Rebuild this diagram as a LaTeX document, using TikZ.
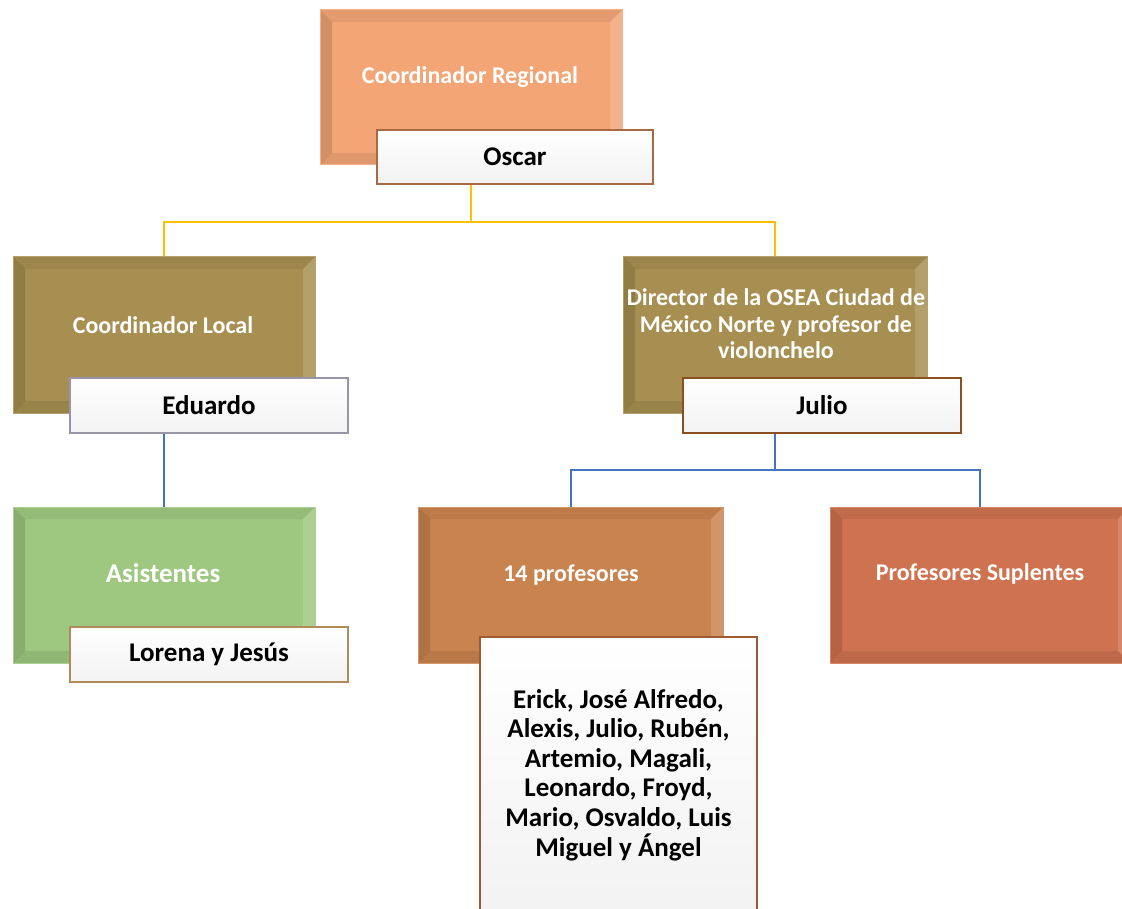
\documentclass[tikz,border=0pt]{standalone}
\usepackage{fontspec}
\setmainfont{Carlito}
\usetikzlibrary{backgrounds}
\definecolor{cRegional}{HTML}{F3A576}
\definecolor{cOlive}{HTML}{A68F50}
\definecolor{cGreen}{HTML}{9EC780}
\definecolor{cProf}{HTML}{C9834F}
\definecolor{cSup}{HTML}{CF7250}
\definecolor{bOscar}{HTML}{A86A45}
\definecolor{bEdu}{HTML}{9696A8}
\definecolor{bJulio}{HTML}{8C5020}
\definecolor{bLorena}{HTML}{B08C5A}
\definecolor{bNames}{HTML}{A05A32}
\definecolor{lineYellow}{HTML}{FFC000}
\definecolor{lineBlue}{HTML}{4472C4}
\tikzset{
  bevelbox/.style={rectangle, fill=#1, draw=#1!85!white, line width=1pt, inner sep=0pt,
    path picture={
      \fill[black,opacity=0.13] (path picture bounding box.north west) -- (path picture bounding box.south west)
        -- ([shift={(12pt,12pt)}]path picture bounding box.south west) -- ([shift={(12pt,-12pt)}]path picture bounding box.north west) -- cycle;
      \fill[black,opacity=0.06] (path picture bounding box.north west) -- (path picture bounding box.north east)
        -- ([shift={(-12pt,-12pt)}]path picture bounding box.north east) -- ([shift={(12pt,-12pt)}]path picture bounding box.north west) -- cycle;
      \fill[white,opacity=0.15] (path picture bounding box.north east) -- (path picture bounding box.south east)
        -- ([shift={(-12pt,12pt)}]path picture bounding box.south east) -- ([shift={(-12pt,-12pt)}]path picture bounding box.north east) -- cycle;
      \fill[black,opacity=0.08] (path picture bounding box.south west) -- (path picture bounding box.south east)
        -- ([shift={(-12pt,12pt)}]path picture bounding box.south east) -- ([shift={(12pt,12pt)}]path picture bounding box.south west) -- cycle;
    }},
  wtext/.style={text=white, font=\fontsize{24}{29}\selectfont\bfseries, align=center, inner sep=0pt},
  dtext/.style={text=white, font=\fontsize{24}{26.5}\selectfont\bfseries, align=center, inner sep=0pt},
  namebox/.style={rectangle, draw=#1, line width=2pt, top color=white, bottom color=black!5,
    text=black, font=\fontsize{27}{30}\selectfont\bfseries, align=center, inner sep=0pt},
  yline/.style={draw=lineYellow, line width=2pt},
  bline/.style={draw=lineBlue, line width=2pt},
}
\begin{document}
\begin{tikzpicture}[x=1pt,y=-1pt]
\useasboundingbox (0,0) rectangle (1122,909);
\clip (0,0) rectangle (1122,909);
% big boxes
\node[bevelbox=cRegional, minimum width=302, minimum height=155] (cr) at (471,87.5) {};
\node[wtext] (crt) at (470,77) {Coordinador Regional};
\node[bevelbox=cOlive, minimum width=302, minimum height=156] (cl) at (164,335) {};
\node[wtext] (clt) at (163,325) {Coordinador Local};
\node[bevelbox=cOlive, minimum width=304, minimum height=156] (dir) at (775,335) {};
\node[dtext] (dirt) at (776,324) {Director de la OSEA Ciudad de\\México Norte y profesor de\\violonchelo};
\node[bevelbox=cGreen, minimum width=302, minimum height=156] (as) at (164,585) {};
\node[wtext, font=\fontsize{27}{30}\selectfont\bfseries] (ast) at (163,573) {Asistentes};
\node[bevelbox=cProf, minimum width=305, minimum height=156] (p14) at (570.5,585) {};
\node[wtext] (p14t) at (571,575) {14 profesores};
\node[bevelbox=cSup, minimum width=300, minimum height=156] (sup) at (980,585) {};
\node[wtext] (supt) at (980,574) {Profesores Suplentes};
% name boxes
\node[namebox=bOscar, minimum width=276, minimum height=54] (oscar) at (515,157) {Oscar};
\node[namebox=bEdu, minimum width=278, minimum height=55] (edu) at (209,405.5) {Eduardo};
\node[namebox=bJulio, minimum width=278, minimum height=55] (julio) at (822,405.5) {Julio};
\node[namebox=bLorena, minimum width=278, minimum height=55] (lorena) at (209,654.5) {Lorena y Jesús};
\node[namebox=bNames, minimum width=277, minimum height=276, font=\fontsize{27}{29.6}\selectfont\bfseries] (names) at (618.5,775) {Erick, José Alfredo,\\Alexis, Julio, Rubén,\\Artemio, Magali,\\Leonardo, Froyd,\\Mario, Osvaldo, Luis\\Miguel y Ángel};
% connectors
\begin{pgfonlayer}{background}
\coordinate (j1) at (471,222);
\coordinate (j2) at (775,470);
\draw[yline] (cr.south) -- (j1) -| (cl.north);
\draw[yline] (j1) -| (dir.north);
\draw[bline] (cl.south) -- (as.north);
\draw[bline] (dir.south) -- (j2) -| (p14.north);
\draw[bline] (j2) -| (sup.north);
\end{pgfonlayer}
\end{tikzpicture}
\end{document}
